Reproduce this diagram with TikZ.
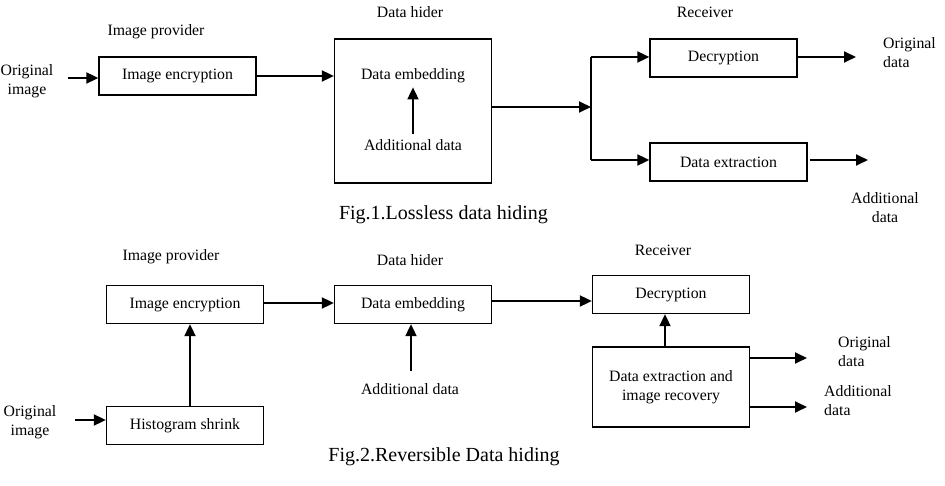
\documentclass[tikz,border=0pt]{standalone}
\usepackage{fontspec}
\setmainfont{Liberation Serif}
\usetikzlibrary{arrows.meta}
\begin{document}
\begin{tikzpicture}[x=1pt,y=-1pt,
  every node/.style={font=\fontsize{15.8}{19}\selectfont, inner sep=0pt},
  blk/.style={draw, line width=1.3pt, minimum width=157pt, minimum height=38pt},
  lbl/.style={align=center},
  lbll/.style={align=left, anchor=west},
  captxt/.style={font=\fontsize{20}{24}\selectfont},
  arr/.style={line width=1.8pt, -{Triangle[length=12pt,width=11pt]}},
  ln/.style={line width=1.8pt}]
\useasboundingbox (0,0) rectangle (945,486);

% ---------- Fig. 1 ----------
\node[lbl] (prov1) at (156,32) {Image provider};
\node[lbl] (hidl1) at (410,12) {Data hider};
\node[lbl] (recv1) at (705,12) {Receiver};

\node[lbl] (orig1) at (27,81) {Original\\image};
\node[blk] (enc1) at (177.5,76) {Image encryption};
\node[draw, line width=1.3pt, minimum width=157pt, minimum height=144pt] (hid1) at (413,111) {};
\node[lbl] (emb1) at (413,76) {Data embedding};
\node[lbl] (add1) at (413,145) {Additional data};
\node[blk, minimum width=147pt] (dec1) at (723.5,58) {Decryption};
\node[blk] (ext1) at (728.5,162) {Data extraction};
\node[lbll] (od1) at (883,53) {Original\\data};
\node[lbl] (ad1) at (885,208) {Additional\\data};
\node[captxt] (cap1) at (443.5,215) {Fig.1.Lossless data hiding};

\coordinate (in1) at (68,78);
\coordinate (a1) at (413,134);
\coordinate (split) at (591,107);
\coordinate (top) at (591,57);
\coordinate (bot) at (591,160);
\coordinate (o1) at (856,57);
\coordinate (o2) at (868,160);

\draw[arr] (in1) -- (enc1.west |- in1);
\draw[arr] (enc1.east) -- (hid1.west |- enc1.east);
\draw[arr] (a1) -- ([yshift=-4pt]emb1.south);
\draw[arr] (hid1.east |- split) -- (split);
\draw[ln] (top) -- (bot);
\draw[arr] (top) -- (dec1.west |- top);
\draw[arr] (bot) -- (ext1.west |- bot);
\draw[arr] (dec1.east |- o1) -- (o1);
\draw[arr] ([xshift=2pt]ext1.east |- o2) -- (o2);

% ---------- Fig. 2 ----------
\node[lbl] (prov2) at (171,257) {Image provider};
\node[lbl] (hidl2) at (410,260) {Data hider};
\node[lbl] (recv2) at (663,250) {Receiver};

\node[blk] (enc2) at (185,304.5) {Image encryption};
\node[blk] (emb2) at (413,304.5) {Data embedding};
\node[lbl] (add2) at (410,389) {Additional data};
\node[blk] (dec2) at (671,294.5) {Decryption};
\node[blk, minimum height=80pt, align=center, font=\fontsize{15.8}{18.5}\selectfont] (rec2) at (671,387) {Data extraction and\\image recovery};
\node[blk] (hist2) at (185,425.5) {Histogram shrink};
\node[lbl] (orig2) at (30,422) {Original\\image};
\node[lbll] (od2) at (838,352) {Original\\data};
\node[lbll] (ad2) at (824,401) {Additional\\data};
\node[captxt] (cap2) at (444,457) {Fig.2.Reversible Data hiding};

\coordinate (in2) at (75,420);
\coordinate (a2) at (411,371);
\coordinate (o3) at (807,358);
\coordinate (o4) at (807,407);

\draw[arr] (in2) -- (hist2.west |- in2);
\draw[arr] ([xshift=5pt]hist2.north) -- ([xshift=5pt]enc2.south);
\draw[arr] (enc2.east |- 0,303) -- (emb2.west |- 0,303);
\draw[arr] (a2) -- (emb2.south -| a2);
\draw[arr] (emb2.east |- 0,301) -- (dec2.west |- 0,301);
\draw[arr] ([xshift=-6pt]rec2.north) -- ([xshift=-6pt]dec2.south);
\draw[arr] (rec2.east |- o3) -- (o3);
\draw[arr] (rec2.east |- o4) -- (o4);
\end{tikzpicture}
\end{document}
